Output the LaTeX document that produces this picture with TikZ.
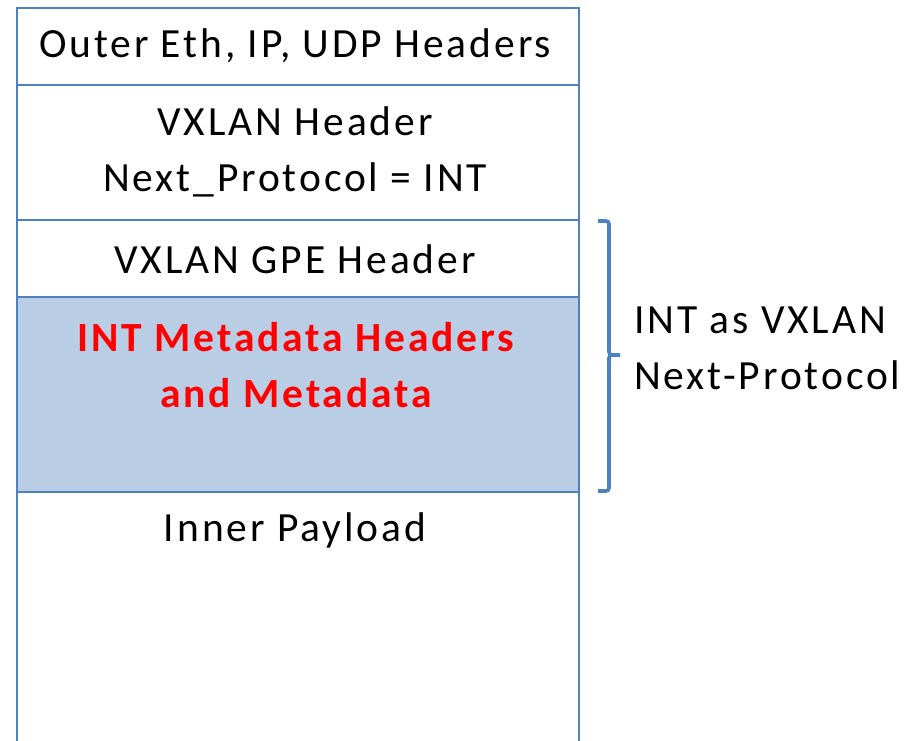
\documentclass[tikz,border=0pt]{standalone}
\usepackage{fontspec}
\setmainfont{Carlito}[LetterSpace=7]
\definecolor{boxblue}{HTML}{4F81BD}
\definecolor{fillblue}{HTML}{B9CDE5}
\definecolor{intred}{HTML}{FF0000}
\begin{document}
\begin{tikzpicture}[x=1pt,y=-1pt,
  lbl/.style={font=\fontsize{41.5}{56}\selectfont, align=center, inner sep=0pt, anchor=center},
  edge/.style={draw=boxblue, line width=2.4pt}]
\useasboundingbox (0,0) rectangle (916,740);
\fill[fillblue] (17,297) rectangle (579,492);
\draw[edge] (17,745) -- (17,8) -- (579,8) -- (579,745);
\draw[edge] (17,85) -- (579,85);
\draw[edge] (17,220) -- (579,220);
\draw[edge] (17,297) -- (579,297);
\draw[edge] (17,492) -- (579,492);
\node[lbl] (outer) at (295,46) {Outer Eth, IP, UDP Headers};
\node[lbl] (vx) at (295,152) {VXLAN Header\\Next\_Protocol = INT};
\node[lbl] (gpe) at (295,259) {VXLAN GPE Header};
\node[lbl, text=intred, font=\fontsize{41.5}{56}\selectfont\bfseries] (int) at (296,365) {INT Metadata Headers\\and Metadata};
\node[lbl] (inner) at (295,530) {Inner Payload};
\draw[boxblue, line width=3.6pt, rounded corners=3pt] (598,221) -- (609,221) -- (609,355) -- (620,355);
\draw[boxblue, line width=3.6pt, rounded corners=3pt] (620,355) -- (609,355) -- (609,491) -- (598,491);
\node[lbl, align=left, anchor=west] (side) at (634,348) {INT as VXLAN\\Next-Protocol};
\end{tikzpicture}
\end{document}
